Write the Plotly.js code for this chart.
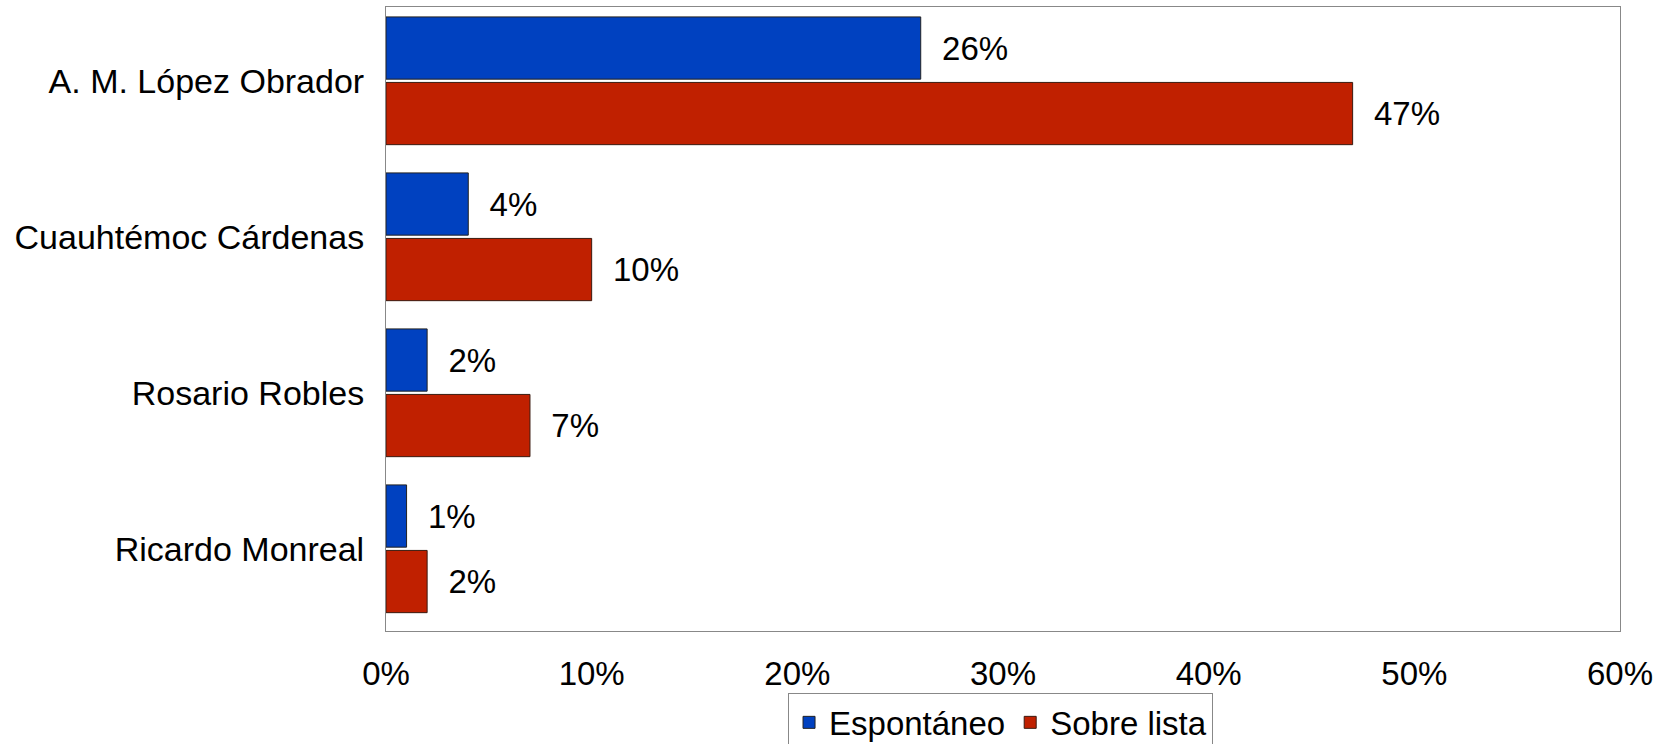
<!DOCTYPE html>
<html>
<head>
<meta charset="utf-8">
<script src="https://cdn.plot.ly/plotly-3.0.1.min.js"></script>
<style>html,body{margin:0;padding:0;background:#fff;}#chart{width:1673px;height:744px;}</style>
</head>
<body>
<div id="chart"></div>
<script>
const categories = ["A. M. López Obrador", "Cuauhtémoc Cárdenas", "Rosario Robles", "Ricardo Monreal"];
const espontaneo = [26, 4, 2, 1];
const sobreLista = [47, 10, 7, 2];
const seriesNames = ["Espontáneo", "Sobre lista"];
const xTicks = [0, 10, 20, 30, 40, 50, 60];

const FONT = "Liberation Sans, Arial, sans-serif";
const pad = "\u00a0\u00a0";

const traces = [
  {
    type: "bar", orientation: "h", name: seriesNames[0],
    y: categories, x: espontaneo,
    marker: {color: "#0041C0", line: {color: "#222", width: 1}},
    text: espontaneo.map(v => pad + v + "%"), textposition: "outside",
    textfont: {family: FONT, size: 33, color: "#000"}, cliponaxis: false,
    hoverinfo: "skip"
  },
  {
    type: "bar", orientation: "h", name: seriesNames[1],
    y: categories, x: sobreLista,
    marker: {color: "#C02000", line: {color: "#3a1a10", width: 1}},
    text: sobreLista.map(v => pad + v + "%"), textposition: "outside",
    textfont: {family: FONT, size: 33, color: "#000"}, cliponaxis: false,
    hoverinfo: "skip"
  }
];

const layout = {
  width: 1673, height: 744,
  margin: {l: 386, r: 53, t: 7, b: 113, autoexpand: false},
  paper_bgcolor: "#fff", plot_bgcolor: "#fff",
  font: {family: FONT, size: 33, color: "#000"},
  barmode: "group", bargap: 0.16, bargroupgap: 0.05,
  showlegend: true,
  legend: {
    orientation: "h", x: 0.498, xanchor: "center", y: -0.1, yanchor: "top",
    bordercolor: "#888", borderwidth: 1, font: {family: FONT, size: 33, color: "#000"},
    traceorder: "normal", itemwidth: 30, tracegroupgap: 0
  },
  xaxis: {
    range: [0, 60], tickvals: xTicks, ticktext: xTicks.map(v => v + "%"),
    showgrid: false, zeroline: false, showline: true, linecolor: "#888", linewidth: 1,
    mirror: true, ticks: "", ticklabelstandoff: 13, fixedrange: true
  },
  yaxis: {
    range: [3.527, -0.473], showgrid: false, zeroline: false, showline: true,
    linecolor: "#888", linewidth: 1, mirror: true, ticks: "", ticklabelstandoff: 14,
    tickfont: {family: FONT, size: 34, color: "#000"},
    fixedrange: true
  }
};

Plotly.newPlot("chart", traces, layout, {displayModeBar: false, staticPlot: true});
</script>
</body>
</html>
